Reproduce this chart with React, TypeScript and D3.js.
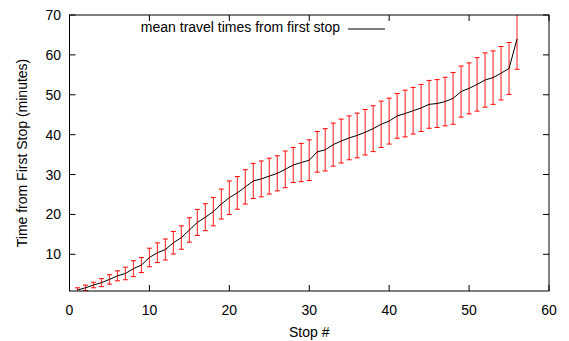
import React from "react";
import * as d3 from "d3";

const stops = d3.range(1, 57);
const meanTimes = [
  1.05, 1.6, 2.3, 2.9, 3.7, 4.6, 5.2, 6.4, 7.3, 9.2,
  10.4, 11.2, 12.9, 14.2, 16.1, 18.0, 19.3, 20.7, 22.6, 24.2,
  25.4, 26.9, 28.4, 28.9, 29.6, 30.3, 31.3, 32.4, 33.0, 33.6,
  35.7, 36.2, 37.5, 38.4, 39.2, 39.8, 40.6, 41.5, 42.6, 43.4,
  44.7, 45.3, 46.0, 46.7, 47.6, 47.8, 48.3, 49.1, 50.8, 51.6,
  52.6, 53.7, 54.3, 55.4, 56.6, 64.0,
];
const errors = [
  0.55, 0.68, 0.7, 1.0, 1.18, 1.25, 1.58, 2.0, 1.88, 2.33,
  2.46, 2.63, 2.83, 2.93, 3.06, 3.26, 3.38, 3.56, 3.76, 4.2,
  4.1, 4.3, 4.4, 4.5, 4.5, 4.4, 4.6, 4.4, 4.8, 5.1,
  5.1, 5.3, 5.4, 5.5, 5.5, 5.6, 5.7, 5.75, 5.8, 5.76,
  5.6, 5.85, 5.85, 5.9, 6.0, 6.0, 6.1, 6.5, 6.4, 6.4,
  6.7, 6.8, 6.7, 6.7, 6.5, 7.6,
];
const xTicks = [0, 10, 20, 30, 40, 50, 60];
const yTicks = [10, 20, 30, 40, 50, 60, 70];
const legendLabel = "mean travel times from first stop";
const xTitle = "Stop #";
const yTitle = "Time from First Stop (minutes)";

export default function App() {
  const W = 569, H = 341;
  const left = 69.5, right = 549, top = 15, bottom = 291;
  const x = d3.scaleLinear().domain([0, 60]).range([left, right]);
  const y = d3.scaleLinear().domain([0.8, 70]).range([bottom, top]);
  const font = "'Liberation Sans', Arial, sans-serif";
  const fs = 14;
  const tick = 6;
  const cap = 2.5;
  const line = d3
    .line<number>()
    .x((_, i) => x(stops[i]))
    .y((d) => y(d));

  return (
    <svg
      width={W}
      height={H}
      style={{ position: "absolute", left: 0, top: 0, background: "#fff" }}
      fontFamily={font}
    >
      <defs>
        <clipPath id="plotclip">
          <rect x={left} y={top} width={right - left} height={bottom - top} />
        </clipPath>
      </defs>
      <rect x={0} y={0} width={W} height={H} fill="#fff" />
      {xTicks.map((t) => (
        <g key={"xt" + t}>
          <line x1={x(t)} x2={x(t)} y1={bottom} y2={bottom - tick} stroke="#000" />
          <line x1={x(t)} x2={x(t)} y1={top} y2={top + tick} stroke="#000" />
          <text x={x(t)} y={315} fontSize={fs} textAnchor="middle" fill="#000">
            {t}
          </text>
        </g>
      ))}
      {yTicks.map((t) => (
        <g key={"yt" + t}>
          <line x1={left} x2={left + tick} y1={y(t)} y2={y(t)} stroke="#000" />
          <line x1={right} x2={right - tick} y1={y(t)} y2={y(t)} stroke="#000" />
          <text x={61} y={y(t) + 5} fontSize={fs} textAnchor="end" fill="#000">
            {t}
          </text>
        </g>
      ))}
      <g clipPath="url(#plotclip)">
        {stops.map((s, i) => {
          const cx = x(s);
          const y1 = y(meanTimes[i] - errors[i]);
          const y2 = y(meanTimes[i] + errors[i]);
          return (
            <g key={"e" + s} stroke="#ff0000">
              <line x1={cx} x2={cx} y1={y1} y2={y2} strokeWidth={1.2} strokeOpacity={0.75} />
              <line x1={cx - cap} x2={cx + cap} y1={y1} y2={y1} strokeWidth={1} />
              <line x1={cx - cap} x2={cx + cap} y1={y2} y2={y2} strokeWidth={1} />
            </g>
          );
        })}
        <path d={line(meanTimes) || ""} fill="none" stroke="#000" strokeWidth={1} />
      </g>
      <rect
        x={left}
        y={top}
        width={right - left}
        height={bottom - top}
        fill="none"
        stroke="#000"
        strokeWidth={1}
      />
      <text x={340} y={32} fontSize={fs} textAnchor="end" fill="#000">
        {legendLabel}
      </text>
      <line x1={348} x2={385} y1={29} y2={29} stroke="#000" strokeWidth={1} />
      <text x={(left + right) / 2} y={337} fontSize={fs} textAnchor="middle" fill="#000">
        {xTitle}
      </text>
      <text
        transform={`translate(27, ${(top + bottom) / 2}) rotate(-90)`}
        fontSize={fs}
        textAnchor="middle"
        fill="#000"
      >
        {yTitle}
      </text>
    </svg>
  );
}
